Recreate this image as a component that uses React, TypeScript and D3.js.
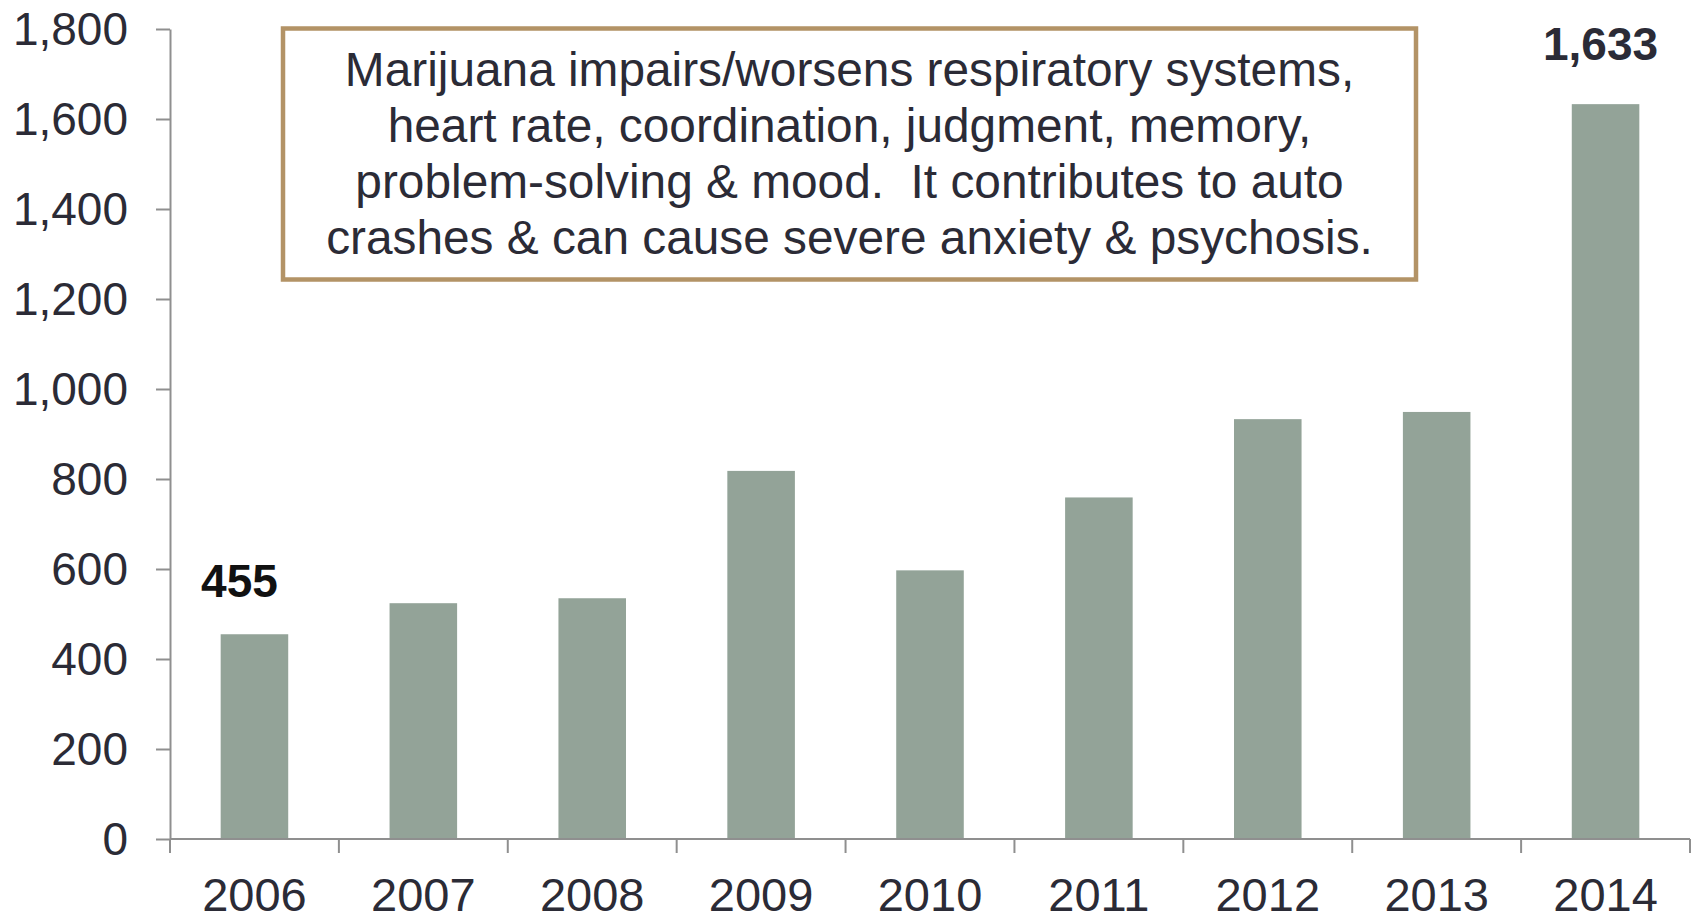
import React, { useEffect, useRef } from "react";
import * as d3 from "d3";

const years = ["2006", "2007", "2008", "2009", "2010", "2011", "2012", "2013", "2014"];
const values = [455, 524, 535, 818, 597, 759, 933, 949, 1633];
const yTicks = [0, 200, 400, 600, 800, 1000, 1200, 1400, 1600, 1800];
const labelledYears = ["2006", "2014"];
const labelDx = [-15, -5];
const labelDy = [-37, -44];
const noteLines = [
  "Marijuana impairs/worsens respiratory systems,",
  "heart rate, coordination, judgment, memory,",
  "problem-solving & mood.  It contributes to auto",
  "crashes & can cause severe anxiety & psychosis.",
];

const W = 1694;
const H = 917;
const FONT = "'Liberation Sans', Arial, Helvetica, sans-serif";
const TEXT = "#2b2b36";
const AXIS = "#8f8f8f";
const BAR = "#93a398";

export default function App() {
  const ref = useRef<SVGSVGElement | null>(null);

  useEffect(() => {
    const svg = d3.select(ref.current);
    svg.selectAll("*").remove();

    const left = 170, right = 1690, top = 29, bottom = 839;
    const x = d3.scaleBand().domain(years).range([left, right]).paddingInner(0.6).paddingOuter(0.3);
    const y = d3.scaleLinear().domain([0, 1800]).range([bottom, top]);

    // bars
    svg.append("g")
      .selectAll("rect")
      .data(values)
      .join("rect")
      .attr("x", (_, i) => x(years[i])!)
      .attr("width", x.bandwidth())
      .attr("y", (d) => y(d))
      .attr("height", (d) => bottom - y(d))
      .attr("fill", BAR);

    // y axis
    const yAxis = d3.axisLeft(y).tickValues(yTicks).tickSize(14).tickSizeOuter(0).tickPadding(28)
      .tickFormat((d) => d3.format(",")(d as number));
    const gy = svg.append("g").attr("transform", `translate(${left},0)`).call(yAxis);
    gy.select(".domain").attr("stroke", AXIS).attr("stroke-width", 2);
    gy.selectAll(".tick line").attr("stroke", AXIS).attr("stroke-width", 2);
    gy.selectAll(".tick text")
      .attr("fill", TEXT)
      .attr("font-family", FONT)
      .attr("font-size", 46)
      .attr("dy", "0.34em");

    // x axis
    svg.append("line")
      .attr("x1", left).attr("x2", right)
      .attr("y1", bottom).attr("y2", bottom)
      .attr("stroke", AXIS).attr("stroke-width", 2);
    const step = x.step();
    const x0 = x(years[0])! - x.paddingOuter() * step;
    svg.append("g")
      .selectAll("line")
      .data(d3.range(years.length + 1))
      .join("line")
      .attr("x1", (i) => x0 + i * step)
      .attr("x2", (i) => x0 + i * step)
      .attr("y1", bottom)
      .attr("y2", bottom + 14)
      .attr("stroke", AXIS)
      .attr("stroke-width", 2);
    svg.append("g")
      .selectAll("text")
      .data(years)
      .join("text")
      .attr("x", (d) => x(d)! + x.bandwidth() / 2)
      .attr("y", 911)
      .attr("text-anchor", "middle")
      .attr("fill", TEXT)
      .attr("font-family", FONT)
      .attr("font-size", 47)
      .text((d) => d);

    // value labels
    svg.append("g")
      .selectAll("text")
      .data(labelledYears)
      .join("text")
      .attr("x", (d, i) => x(d)! + x.bandwidth() / 2 + labelDx[i])
      .attr("y", (d, i) => y(values[years.indexOf(d)]) + labelDy[i])
      .attr("text-anchor", "middle")
      .attr("fill", (d, i) => (i === 0 ? "#111111" : TEXT))
      .attr("font-family", FONT)
      .attr("font-size", 46)
      .attr("font-weight", "bold")
      .text((d) => d3.format(",")(values[years.indexOf(d)]));

    // note box
    const bx = 283, by = 28.5, bw = 1133, bh = 251;
    svg.append("rect")
      .attr("x", bx).attr("y", by).attr("width", bw).attr("height", bh)
      .attr("fill", "#ffffff")
      .attr("stroke", "#b39366")
      .attr("stroke-width", 4.5);
    svg.append("g")
      .selectAll("text")
      .data(noteLines)
      .join("text")
      .attr("x", bx + bw / 2)
      .attr("y", (_, i) => 86 + i * 56)
      .attr("text-anchor", "middle")
      .attr("fill", TEXT)
      .attr("font-family", FONT)
      .attr("font-size", 47.8)
      .attr("xml:space", "preserve")
      .style("white-space", "pre")
      .text((d) => d);
  }, []);

  return (
    <svg
      ref={ref}
      width={W}
      height={H}
      style={{ position: "absolute", left: 0, top: 0, background: "#ffffff" }}
    />
  );
}
